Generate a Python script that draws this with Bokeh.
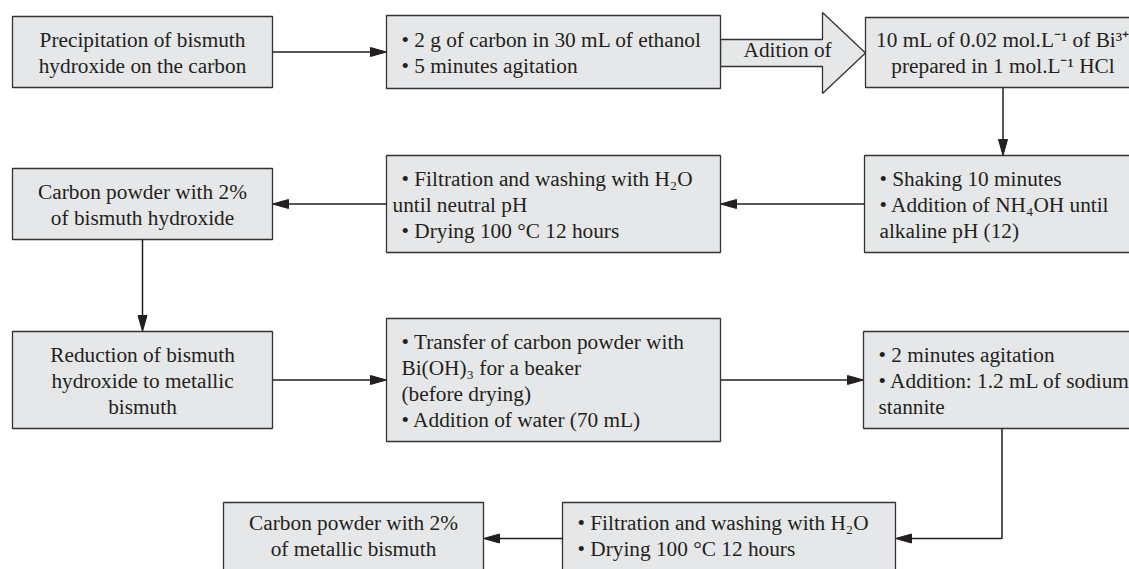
from bokeh.plotting import figure
from bokeh.models import Range1d
from bokeh.core.properties import value
from bokeh.embed import file_html
from bokeh.resources import INLINE

# ---------------- data: text of every step ----------------
step_precipitation = ["Precipitation of bismuth", "hydroxide on the carbon"]
step_carbon_ethanol = ["• 2 g of carbon in 30 mL of ethanol", "• 5 minutes agitation"]
arrow_label = "Adition of"
step_bismuth_solution = ["10 mL of 0.02 mol.L⁻¹ of Bi³⁺", "prepared in 1 mol.L⁻¹ HCl"]
step_shaking = ["• Shaking 10 minutes", "• Addition of NH₄OH until", "alkaline pH (12)"]
step_filtration_1 = ["• Filtration and washing with H₂O", "until neutral pH", "• Drying 100 °C 12 hours"]
step_hydroxide_powder = ["Carbon powder with 2%", "of bismuth hydroxide"]
step_reduction = ["Reduction of bismuth", "hydroxide to metallic", "bismuth"]
step_transfer = ["• Transfer of carbon powder with", "Bi(OH)₃ for a beaker",
                 "(before drying)", "• Addition of water (70 mL)"]
step_stannite = ["• 2 minutes agitation", "• Addition: 1.2 mL of sodium", "stannite"]
step_filtration_2 = ["• Filtration and washing with H₂O", "• Drying 100 °C 12 hours"]
step_metallic_powder = ["Carbon powder with 2%", "of metallic bismuth"]

# ---------------- layout (page pixels: left, top, right, bottom) ----------------
boxes = {
    "precipitation":    ((12, 16, 272, 87), "center", step_precipitation),
    "carbon_ethanol":   ((386, 15, 720, 88), "left", step_carbon_ethanol),
    "bismuth_solution": ((865, 17, 1140, 87), "center", step_bismuth_solution),
    "shaking":          ((864, 155, 1140, 252), "left", step_shaking),
    "filtration_1":     ((386, 155, 720, 252), "left", step_filtration_1),
    "hydroxide_powder": ((12, 168, 272, 239), "center", step_hydroxide_powder),
    "reduction":        ((12, 331, 272, 428), "center", step_reduction),
    "transfer":         ((386, 318, 720, 441), "left", step_transfer),
    "stannite":         ((863, 331, 1140, 428), "left", step_stannite),
    "filtration_2":     ((562, 502, 895, 574), "left", step_filtration_2),
    "metallic_powder":  ((223, 502, 483, 574), "center", step_metallic_powder),
}
cont_indent = {"filtration_1": 6}   # indent of non-bullet continuation lines
text_shift = {"filtration_2": -3, "metallic_powder": -3}
PAD = 15
LINE = 26
FS = 21.3
FONT = "Liberation Serif"
INK = "#231f20"
EDGE = "#333333"
FILL = "#e6e7e8"

W, H = 1129, 569
p = figure(width=W, height=H, output_backend="svg", toolbar_location=None,
           x_range=Range1d(0, W), y_range=Range1d(H, 0),
           min_border=0, background_fill_color="white")
p.axis.visible = False
p.grid.visible = False
p.outline_line_color = None


def geom(name):
    return boxes[name][0]


def cx(name):
    l, t, r, b = geom(name)
    return (l + r) / 2


def cy(name):
    l, t, r, b = geom(name)
    return (t + b) / 2


# ---------------- connectors ----------------
paths = []
def conn(pts):
    paths.append(pts)

# row 1
conn([(geom("precipitation")[2], cy("precipitation")), (geom("carbon_ethanol")[0], cy("precipitation"))])
conn([(cx("bismuth_solution"), geom("bismuth_solution")[3]), (cx("bismuth_solution"), geom("shaking")[1])])
# row 2 (right to left)
conn([(geom("shaking")[0], cy("shaking")), (geom("filtration_1")[2], cy("shaking"))])
conn([(geom("filtration_1")[0], cy("filtration_1")), (geom("hydroxide_powder")[2], cy("filtration_1"))])
conn([(cx("hydroxide_powder"), geom("hydroxide_powder")[3]), (cx("hydroxide_powder"), geom("reduction")[1])])
# row 3
conn([(geom("reduction")[2], cy("reduction")), (geom("transfer")[0], cy("reduction"))])
conn([(geom("transfer")[2], cy("transfer")), (geom("stannite")[0], cy("transfer"))])
conn([(cx("stannite"), geom("stannite")[3]), (cx("stannite"), cy("filtration_2")),
      (geom("filtration_2")[2], cy("filtration_2"))])
# row 4
conn([(geom("filtration_2")[0], cy("filtration_2")), (geom("metallic_powder")[2], cy("filtration_2"))])

HEAD_L, HEAD_W = 16, 4.5
line_xs, line_ys, head_xs, head_ys = [], [], [], []
for pts in paths:
    (x0, y0), (x1, y1) = pts[-2], pts[-1]
    dx, dy = x1 - x0, y1 - y0
    n = (dx * dx + dy * dy) ** 0.5
    ux, uy = dx / n, dy / n
    bx, by = x1 - ux * HEAD_L, y1 - uy * HEAD_L
    xs = [q[0] for q in pts[:-1]] + [bx + ux * 2]
    ys = [q[1] for q in pts[:-1]] + [by + uy * 2]
    line_xs.append(xs)
    line_ys.append(ys)
    head_xs.append([x1, bx - uy * HEAD_W, bx + uy * HEAD_W])
    head_ys.append([y1, by + ux * HEAD_W, by - ux * HEAD_W])

# ---------------- big block arrow "Adition of" ----------------
a_l = geom("carbon_ethanol")[2]
a_r = geom("bismuth_solution")[0]
a_c = 52.5
shaft_h, head_h, head_len = 13.5, 40.5, 43
a_hb = a_r - head_len
big_x = [a_l, a_hb, a_hb, a_r, a_hb, a_hb, a_l]
big_y = [a_c - shaft_h, a_c - shaft_h, a_c - head_h, a_c, a_c + head_h, a_c + shaft_h, a_c + shaft_h]
p.patch(big_x, big_y, fill_color=FILL, line_color=EDGE, line_width=1.3)
p.text(x=[a_l + 23], y=[a_c - 3], text=[arrow_label], text_font=value(FONT),
       text_font_size=f"{FS}px", text_color=INK, text_align="left", text_baseline="alphabetic")

# ---------------- boxes ----------------
p.quad(left=[g[0][0] for g in boxes.values()], right=[g[0][2] for g in boxes.values()],
       top=[g[0][1] for g in boxes.values()], bottom=[g[0][3] for g in boxes.values()],
       fill_color=FILL, line_color=EDGE, line_width=1.3)

p.multi_line(line_xs, line_ys, line_color=INK, line_width=1.5)
p.patches(head_xs, head_ys, fill_color=INK, line_color=INK, line_width=1)

for key in ["center", "left"]:
    tx, ty, tt = [], [], []
    for name, (g, align, lines) in boxes.items():
        if align != key:
            continue
        l, t, r, b = g
        n = len(lines)
        for i, s in enumerate(lines):
            yy = (t + b) / 2 + (i - (n - 1) / 2) * LINE + 0.5 + text_shift.get(name, 0)
            if key == "center":
                xx = (l + r) / 2
            else:
                xx = l + (PAD if s.startswith("•") else cont_indent.get(name, PAD))
            tx.append(xx)
            ty.append(yy)
            tt.append(s)
    p.text(x=tx, y=ty, text=tt, text_font=value(FONT), text_font_size=f"{FS}px",
           text_color=INK, text_align=key, text_baseline="alphabetic")

open("out.html", "w").write(file_html(p, INLINE))
